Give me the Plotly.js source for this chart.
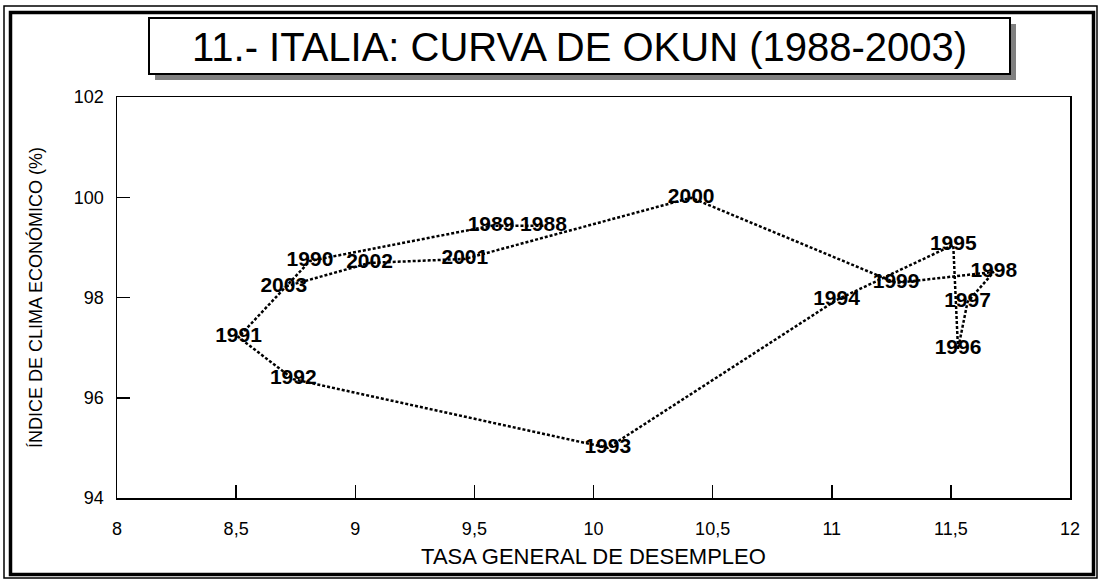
<!DOCTYPE html>
<html>
<head>
<meta charset="utf-8">
<script src="https://cdn.plot.ly/plotly-3.0.1.min.js"></script>
<style>html,body{margin:0;padding:0;background:#fff;}#chart{width:1100px;height:581px;}</style>
</head>
<body>
<div id="chart"></div>
<script>
const years = ["1988","1989","1990","1991","1992","1993","1994","1995","1996","1997","1998","1999","2000","2001","2002","2003"];
const desempleo = [9.79, 9.57, 8.81, 8.51, 8.74, 10.06, 11.02, 11.51, 11.53, 11.57, 11.68, 11.27, 10.41, 9.46, 9.06, 8.70];
const clima = [99.43, 99.43, 98.73, 97.21, 96.37, 95.00, 97.95, 99.05, 96.97, 97.91, 98.51, 98.29, 99.99, 98.77, 98.69, 98.21];
const xTicks = [8, 8.5, 9, 9.5, 10, 10.5, 11, 11.5, 12];
const yTicks = [94, 96, 98, 100, 102];

const L = 117, R = 1070, T = 97, B = 498;
const W = R - L, H = B - T;
const px = v => (v - L) / W;
const py = v => (B - v) / H;

const trace = {
  x: desempleo, y: clima, text: years,
  mode: 'lines+text', type: 'scatter',
  line: {color: '#000', width: 2.5, dash: '3px,2px'},
  textposition: 'middle center',
  textfont: {family: 'Liberation Sans, Arial, sans-serif', size: 21, color: '#000', weight: 'bold'},
  cliponaxis: false, hoverinfo: 'none'
};

const rect = (x0, y0, x1, y1, extra) => Object.assign({type: 'rect', xref: 'paper', yref: 'paper',
  x0: px(x0), x1: px(x1), y0: py(y0), y1: py(y1), layer: 'below'}, extra);

const layout = {
  width: 1100, height: 581,
  margin: {l: L, r: 1100 - R, t: T, b: 581 - B, pad: 0},
  paper_bgcolor: '#fff', plot_bgcolor: 'rgba(0,0,0,0)',
  separators: ',.',
  showlegend: false,
  font: {family: 'Liberation Sans, Arial, sans-serif', color: '#000'},
  xaxis: {
    range: [8, 12], tickvals: xTicks, ticks: 'inside', ticklen: 13, tickwidth: 1.5, tickcolor: '#000',
    showline: true, linecolor: '#000', linewidth: 1.5, mirror: true, showgrid: false, zeroline: false,
    tickfont: {size: 18, color: '#000'}, ticklabelstandoff: 14,
    title: {text: 'TASA GENERAL DE DESEMPLEO', font: {size: 22, color: '#000'}, standoff: 10}
  },
  yaxis: {
    range: [94, 102], tickvals: yTicks, ticks: 'inside', ticklen: 13, tickwidth: 1.5, tickcolor: '#000',
    showline: true, linecolor: '#000', linewidth: 1.5, mirror: true, showgrid: false, zeroline: false,
    tickfont: {size: 18, color: '#000'}, ticklabelstandoff: 8,
    title: {text: 'ÍNDICE DE CLIMA ECONÓMICO (%)', font: {size: 18, color: '#000'}, standoff: 26}
  },
  shapes: [
    rect(4, 6, 1097, 578, {line: {color: '#000', width: 1.5}}),
    rect(10.5, 12.5, 1093.5, 574.5, {line: {color: '#000', width: 3.5}}),
    rect(155, 24, 1016, 80, {fillcolor: '#808080', line: {width: 0}}),
    rect(149, 18, 1010, 74, {fillcolor: '#fff', line: {color: '#000', width: 2}})
  ],
  annotations: [{
    xref: 'paper', yref: 'paper', x: px(579.5), y: py(46.5), xanchor: 'center', yanchor: 'middle',
    text: '11.- ITALIA: CURVA DE OKUN (1988-2003)', showarrow: false,
    font: {family: 'Liberation Sans, Arial, sans-serif', size: 40, color: '#000'}
  }]
};

Plotly.newPlot('chart', [trace], layout, {staticPlot: true, displayModeBar: false});
</script>
</body>
</html>
